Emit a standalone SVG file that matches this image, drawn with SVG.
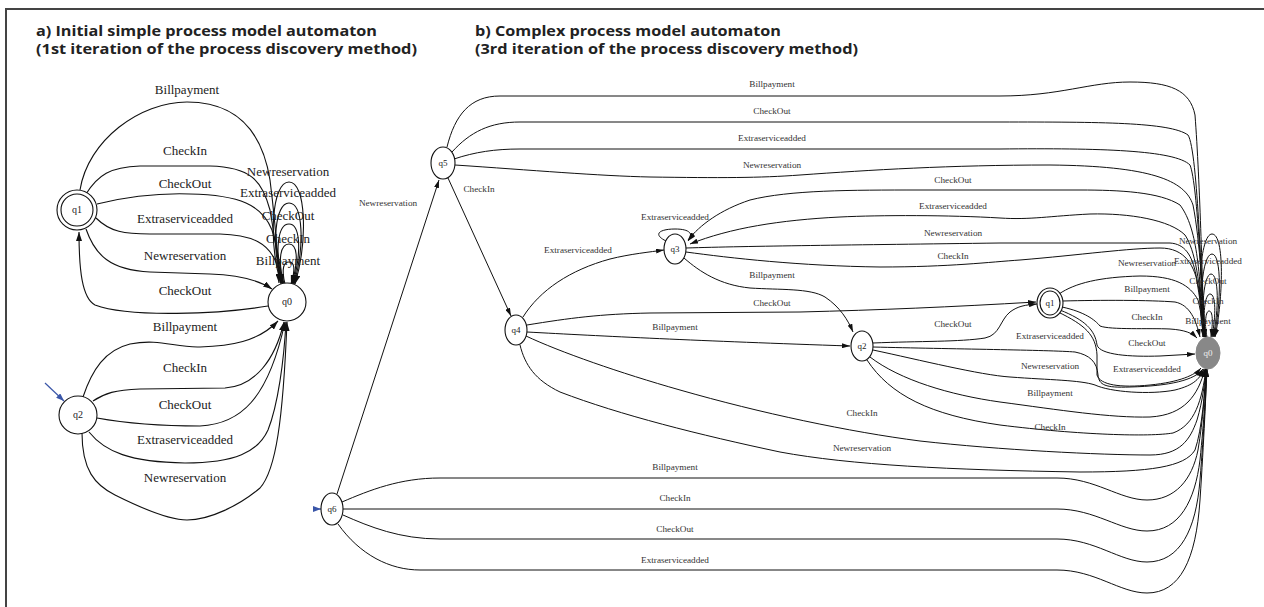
<svg xmlns="http://www.w3.org/2000/svg" width="1264" height="607" viewBox="0 0 1264 607">
<defs>
<marker id="ah" viewBox="0 0 9 6" refX="9" refY="3" markerWidth="9" markerHeight="6" markerUnits="userSpaceOnUse" orient="auto"><path d="M0,0 L9,3 L0,6 z" fill="#111"/></marker>
<marker id="ahb" viewBox="0 0 8 5" refX="8" refY="2.5" markerWidth="8" markerHeight="5" markerUnits="userSpaceOnUse" orient="auto"><path d="M0,0 L8,2.5 L0,5 z" fill="#111"/></marker>
<marker id="ahblue" viewBox="0 0 8 6" refX="8" refY="3" markerWidth="8" markerHeight="6" markerUnits="userSpaceOnUse" orient="auto"><path d="M0,0 L8,3 L0,6 z" fill="#3a56a8"/></marker>
</defs>
<style>
.ea{fill:none;stroke:#111;stroke-width:1.1;marker-end:url(#ah)}
.eb{fill:none;stroke:#111;stroke-width:1;marker-end:url(#ahb)}
.init{fill:none;stroke:#3a56a8;stroke-width:1.2;marker-end:url(#ahblue)}
.la{font-family:"Liberation Serif","Times New Roman",serif;font-size:13px;fill:#222;text-anchor:middle}
.lb{font-family:"Liberation Serif","Times New Roman",serif;font-size:9.2px;fill:#333;text-anchor:middle}
.n{fill:#fff;stroke:#111;stroke-width:1.1}
.na{font-family:"Liberation Serif","Times New Roman",serif;font-size:10px;fill:#222;text-anchor:middle}
.nb{font-family:"Liberation Serif","Times New Roman",serif;font-size:9px;fill:#222;text-anchor:middle}
.title{font-family:"Open Sans",Lato,sans-serif;font-weight:bold;font-size:14px;fill:#222}
</style>
<rect width="1264" height="607" fill="#fff"/>
<path d="M6,607 V9 H1264" fill="none" stroke="#444" stroke-width="2"/>
<g id="titles">
<text class="title" x="36" y="36" textLength="341" lengthAdjust="spacingAndGlyphs">a) Initial simple process model automaton</text>
<text class="title" x="36" y="54" textLength="381" lengthAdjust="spacingAndGlyphs">(1st iteration of the process discovery method)</text>
<text class="title" x="475" y="36" textLength="306" lengthAdjust="spacingAndGlyphs">b) Complex process model automaton</text>
<text class="title" x="475" y="54" textLength="383" lengthAdjust="spacingAndGlyphs">(3rd iteration of the process discovery method)</text>
</g>
<g id="connectors">
<path class="ea" d="M80,190 C88,140 140,102 187,102 C235,102 262,130 270,180 C275,220 278,260 279,283"/>
<path class="ea" d="M86,194 C98,175 110,167 140,166 L210,166 C250,167 262,180 270,210 C275,240 279,265 281,283"/>
<path class="ea" d="M97,204 C130,196 160,193 190,194 C240,195 262,205 272,230 C278,250 281,270 282,283"/>
<path class="ea" d="M96,218 C110,232 125,234 150,234 L220,234 C255,235 268,245 275,260 C279,270 282,278 283,283"/>
<path class="ea" d="M86,229 C95,255 110,270 150,272 L210,274 C240,275 260,281 272,289"/>
<path class="ea" d="M268,306 C220,314 130,318 95,305 C82,298 79,270 79,232"/>
<path class="ea" d="M281,284 C268,240 272,182 289,182 C306,182 308,240 295,284"/>
<path class="ea" d="M282,284 C271,245 275,203 289,203 C303,203 305,245 294,284"/>
<path class="ea" d="M283,284 C274,250 278,224 289,224 C300,224 302,250 293,284"/>
<path class="ea" d="M284,284 C277,258 281,244 289,244 C297,244 299,258 292,284"/>
<path class="ea" d="M285,284 C281,268 284,262 289,262 C294,262 296,268 291,284"/>
<path class="ea" d="M83,397 C92,370 105,350 130,344 C160,338 175,348 200,347 C230,346 258,342 278,321"/>
<path class="ea" d="M93,401 C105,393 115,390 140,389 L225,388 C255,386 275,360 284,322"/>
<path class="ea" d="M97,418 C130,424 160,426 200,426 C240,424 268,400 285,322"/>
<path class="ea" d="M89,432 C105,452 130,462 185,463 C235,463 258,452 268,430 C278,405 284,360 286,322"/>
<path class="ea" d="M82,433 C82,470 95,485 115,495 C145,510 170,520 187,520 C210,520 240,505 260,488 C276,470 283,420 287,322"/>
<path class="init" d="M45,383 L64,401"/>
<path class="eb" d="M337,494 L439,180"/>
<path class="eb" d="M448,178 L511,316"/>
<path class="eb" d="M447,147 C455,115 470,96 500,96 L1000,96 C1060,96 1090,82 1130,82 C1170,82 1190,90 1195,115 C1200,180 1203,300 1204,337"/>
<path class="eb" d="M452,152 C470,132 490,122 520,122 L1000,122 C1100,122 1170,122 1188,135 C1198,150 1202,300 1204,337"/>
<path class="eb" d="M454,159 C475,152 495,149 520,149 L1000,149 C1100,148 1175,150 1190,165 C1198,185 1202,300 1205,337"/>
<path class="eb" d="M455,165 C530,170 600,176 650,177 C720,178 760,178 800,175 C870,170 950,165 1050,165 C1150,166 1185,180 1193,205 C1200,240 1203,300 1205,337"/>
<path class="eb" d="M1203,337 C1200,260 1195,225 1180,205 C1160,192 1120,190 1080,190 L920,190 C850,190 790,190 750,200 C720,210 700,225 688,240"/>
<path class="eb" d="M1204,337 C1200,280 1195,250 1185,235 C1170,220 1130,213 1090,214 C1050,216 1030,220 1000,218 C950,215 880,215 840,217 C780,220 730,228 690,244"/>
<path class="eb" d="M686,248 C750,246 850,245 1000,243 L1170,243 C1185,244 1192,255 1196,275 C1200,300 1203,320 1204,337"/>
<path class="eb" d="M686,252 C730,258 800,266 880,267 C950,267 990,262 1020,260 C1080,255 1130,248 1160,248 C1185,248 1195,265 1199,290 C1202,310 1204,325 1205,337"/>
<path class="eb" d="M666,241 C652,234 660,229 675,229 C690,229 694,234 688,241"/>
<path class="eb" d="M523,317 C540,290 570,270 610,259 C630,254 650,252 664,250"/>
<path class="eb" d="M684,258 C700,272 720,285 750,288 C780,290 810,288 825,297 C840,307 848,320 853,332"/>
<path class="eb" d="M527,325 C570,318 600,314 650,313 L800,312 C880,310 950,307 1036,302"/>
<path class="eb" d="M527,332 C600,336 700,341 850,346"/>
<path class="eb" d="M873,343 C920,341 960,342 985,338 C1000,335 1000,320 1010,312 C1018,306 1025,305 1037,304"/>
<path class="eb" d="M526,336 C560,352 620,373 680,390 C760,413 850,432 920,441 C1000,450 1100,455 1150,455 C1180,455 1190,440 1197,420 C1203,400 1205,380 1206,369"/>
<path class="eb" d="M520,345 C525,365 535,380 560,392 C620,415 700,435 780,452 C850,465 950,470 1080,472 C1150,472 1185,467 1195,450 C1202,430 1205,390 1206,369"/>
<path class="eb" d="M873,347 C950,349 1050,350 1075,352 C1090,355 1097,362 1098,375 C1099,385 1105,388 1130,387 C1170,386 1195,380 1203,369"/>
<path class="eb" d="M873,350 C920,360 980,375 1010,377 C1050,380 1080,380 1095,385 C1110,392 1150,395 1175,390 C1195,385 1200,378 1204,369"/>
<path class="eb" d="M870,357 C900,380 950,395 1000,402 C1060,410 1110,418 1150,417 C1185,415 1198,395 1205,369"/>
<path class="eb" d="M867,360 C890,395 930,415 1000,425 C1080,435 1150,437 1173,433 C1195,425 1202,400 1206,369"/>
<path class="eb" d="M1059,294 C1075,283 1100,277 1140,276 C1175,276 1190,285 1198,300 C1202,315 1203,330 1203,337"/>
<path class="eb" d="M1063,301 C1100,300 1150,300 1175,302 C1190,305 1196,320 1200,337"/>
<path class="eb" d="M1062,307 C1085,312 1095,320 1100,326 C1110,330 1150,328 1170,329 C1185,330 1192,333 1197,338"/>
<path class="eb" d="M1060,310 C1085,320 1095,330 1097,345 C1100,355 1130,357 1160,356 L1195,354"/>
<path class="eb" d="M1058,312 C1085,325 1096,335 1097,355 L1097,375 C1100,385 1120,388 1150,385 C1180,382 1195,375 1201,368"/>
<path class="eb" d="M1204,337 C1196,300 1200,234 1212,234 C1225,234 1223,300 1215,337"/>
<path class="eb" d="M1205,337 C1198,305 1202,254 1212,254 C1222,254 1221,305 1214,337"/>
<path class="eb" d="M1206,337 C1200,310 1204,274 1211,274 C1219,274 1219,310 1213,337"/>
<path class="eb" d="M1206,337 C1202,315 1205,294 1210,294 C1216,294 1216,315 1212,337"/>
<path class="eb" d="M1207,337 C1204,322 1206,311 1209,311 C1213,311 1213,322 1211,337"/>
<path class="eb" d="M342,502 C370,490 400,478 440,478 L1057,478 C1095,478 1120,500 1147,500 C1175,500 1192,480 1198,450 C1203,420 1205,390 1206,369"/>
<path class="eb" d="M343,509 L1057,509 C1095,509 1120,531 1147,531 C1180,531 1195,500 1200,460 C1204,420 1206,390 1206,369"/>
<path class="eb" d="M343,515 C370,527 400,539 440,539 L1057,539 C1095,539 1120,562 1147,562 C1180,562 1196,530 1200,480 C1204,430 1206,390 1207,369"/>
<path class="eb" d="M338,524 C360,555 390,570 420,570 L1057,570 C1095,570 1120,593 1147,593 C1180,593 1196,560 1200,500 C1204,440 1206,390 1207,369"/>
<path class="init" d="M313,509 L321,509"/>
</g>
<g id="edge-labels">
<text class="la" x="187" y="94">Billpayment</text>
<text class="la" x="185" y="155">CheckIn</text>
<text class="la" x="185" y="188">CheckOut</text>
<text class="la" x="185" y="223">Extraserviceadded</text>
<text class="la" x="185" y="260">Newreservation</text>
<text class="la" x="185" y="295">CheckOut</text>
<text class="la" x="288" y="176">Newreservation</text>
<text class="la" x="288" y="197">Extraserviceadded</text>
<text class="la" x="288" y="220">CheckOut</text>
<text class="la" x="288" y="243">CheckIn</text>
<text class="la" x="288" y="265">Billpayment</text>
<text class="la" x="185" y="331">Billpayment</text>
<text class="la" x="185" y="372">CheckIn</text>
<text class="la" x="185" y="409">CheckOut</text>
<text class="la" x="185" y="444">Extraserviceadded</text>
<text class="la" x="185" y="482">Newreservation</text>
<text class="lb" x="388" y="206">Newreservation</text>
<text class="lb" x="479" y="192">CheckIn</text>
<text class="lb" x="772" y="87">Billpayment</text>
<text class="lb" x="772" y="114">CheckOut</text>
<text class="lb" x="772" y="141">Extraserviceadded</text>
<text class="lb" x="772" y="168">Newreservation</text>
<text class="lb" x="953" y="183">CheckOut</text>
<text class="lb" x="953" y="209">Extraserviceadded</text>
<text class="lb" x="953" y="236">Newreservation</text>
<text class="lb" x="953" y="259">CheckIn</text>
<text class="lb" x="675" y="220">Extraserviceadded</text>
<text class="lb" x="578" y="253">Extraserviceadded</text>
<text class="lb" x="772" y="278">Billpayment</text>
<text class="lb" x="772" y="306">CheckOut</text>
<text class="lb" x="675" y="330">Billpayment</text>
<text class="lb" x="953" y="327">CheckOut</text>
<text class="lb" x="862" y="416">CheckIn</text>
<text class="lb" x="862" y="451">Newreservation</text>
<text class="lb" x="1050" y="339">Extraserviceadded</text>
<text class="lb" x="1050" y="369">Newreservation</text>
<text class="lb" x="1050" y="396">Billpayment</text>
<text class="lb" x="1050" y="430">CheckIn</text>
<text class="lb" x="1147" y="266">Newreservation</text>
<text class="lb" x="1147" y="292">Billpayment</text>
<text class="lb" x="1147" y="320">CheckIn</text>
<text class="lb" x="1147" y="346">CheckOut</text>
<text class="lb" x="1147" y="372">Extraserviceadded</text>
<text class="lb" x="1208" y="244">Newreservation</text>
<text class="lb" x="1208" y="264">Extraserviceadded</text>
<text class="lb" x="1208" y="284">CheckOut</text>
<text class="lb" x="1208" y="304">CheckIn</text>
<text class="lb" x="1208" y="324">Billpayment</text>
<text class="lb" x="675" y="470">Billpayment</text>
<text class="lb" x="675" y="501">CheckIn</text>
<text class="lb" x="675" y="532">CheckOut</text>
<text class="lb" x="675" y="563">Extraserviceadded</text>
</g>
<g id="a-q1"><circle class="n" cx="77" cy="210" r="20"/><circle class="n" cx="77" cy="210" r="16"/><text class="na" x="77" y="213">q1</text></g>
<g id="a-q0"><circle class="n" cx="287" cy="302" r="19"/><text class="na" x="287" y="305">q0</text></g>
<g id="a-q2"><circle class="n" cx="78" cy="415" r="19"/><text class="na" x="78" y="418">q2</text></g>
<g id="b-q5"><ellipse class="n" cx="443" cy="163" rx="12" ry="16"/><text class="nb" x="443" y="166">q5</text></g>
<g id="b-q4"><ellipse class="n" cx="516" cy="330" rx="11" ry="15"/><text class="nb" x="516" y="333">q4</text></g>
<g id="b-q3"><ellipse class="n" cx="675" cy="249" rx="11" ry="15"/><text class="nb" x="675" y="252">q3</text></g>
<g id="b-q2"><ellipse class="n" cx="862" cy="346" rx="11" ry="15"/><text class="nb" x="862" y="349">q2</text></g>
<g id="b-q1"><ellipse class="n" cx="1050" cy="303" rx="13" ry="15"/><ellipse class="n" cx="1050" cy="303" rx="10" ry="12"/><text class="nb" x="1050" y="306">q1</text></g>
<g id="b-q0"><ellipse cx="1208" cy="353" rx="12" ry="16" fill="#888" stroke="#888"/><text class="nb" x="1208" y="356" style="fill:#eee">q0</text></g>
<g id="b-q6"><ellipse class="n" cx="332" cy="509" rx="11" ry="16"/><text class="nb" x="332" y="512">q6</text></g>
</svg>
